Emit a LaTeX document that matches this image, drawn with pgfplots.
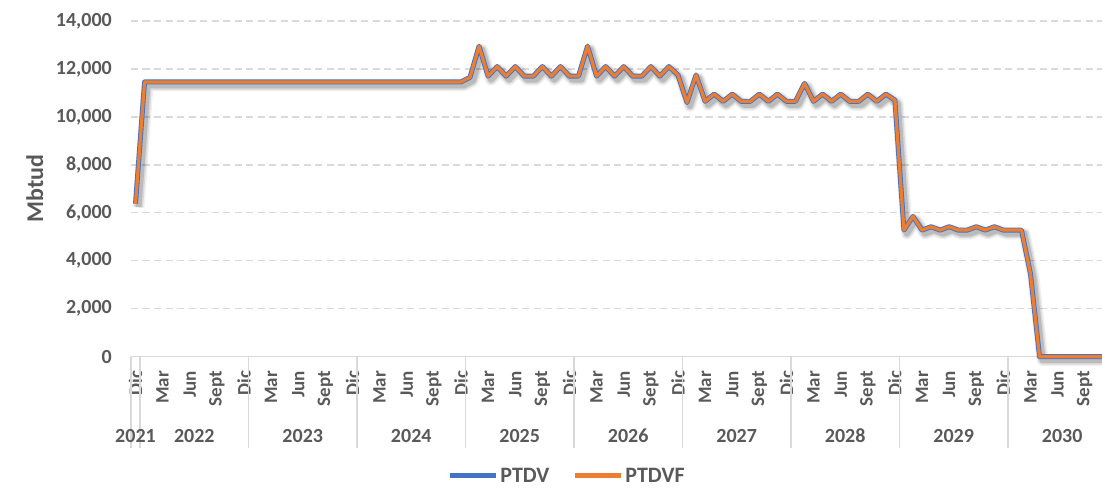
\documentclass[border=0pt]{standalone}
\usepackage{fontspec}
\setmainfont{Carlito}
\usepackage{pgfplots}
\usepackage{pgfplotstable}
\pgfplotsset{compat=1.18}
\definecolor{xlblue}{HTML}{4472C4}
\definecolor{xlorange}{HTML}{ED7D31}
\definecolor{xlgrid}{HTML}{D9D9D9}
\definecolor{xltext}{HTML}{595959}

\pgfplotstableread{
x ptdv ptdvf
0 6380 6380
1 11460 11460
2 11460 11460
3 11460 11460
4 11460 11460
5 11460 11460
6 11460 11460
7 11460 11460
8 11460 11460
9 11460 11460
10 11460 11460
11 11460 11460
12 11460 11460
13 11460 11460
14 11460 11460
15 11460 11460
16 11460 11460
17 11460 11460
18 11460 11460
19 11460 11460
20 11460 11460
21 11460 11460
22 11460 11460
23 11460 11460
24 11460 11460
25 11460 11460
26 11460 11460
27 11460 11460
28 11460 11460
29 11460 11460
30 11460 11460
31 11460 11460
32 11460 11460
33 11460 11460
34 11460 11460
35 11460 11460
36 11460 11460
37 11650 11650
38 12950 12950
39 11700 11700
40 12100 12100
41 11700 11700
42 12100 12100
43 11700 11700
44 11700 11700
45 12100 12100
46 11700 11700
47 12100 12100
48 11700 11700
49 11700 11700
50 12950 12950
51 11700 11700
52 12100 12100
53 11700 11700
54 12100 12100
55 11700 11700
56 11700 11700
57 12100 12100
58 11700 11700
59 12100 12100
60 11750 11750
61 10600 10600
62 11750 11750
63 10650 10650
64 10950 10950
65 10650 10650
66 10950 10950
67 10650 10650
68 10650 10650
69 10950 10950
70 10650 10650
71 10950 10950
72 10650 10650
73 10650 10650
74 11400 11400
75 10650 10650
76 10950 10950
77 10650 10650
78 10950 10950
79 10650 10650
80 10650 10650
81 10950 10950
82 10650 10650
83 10950 10950
84 10700 10700
85 5280 5280
86 5850 5850
87 5280 5280
88 5420 5420
89 5280 5280
90 5420 5420
91 5280 5280
92 5280 5280
93 5420 5420
94 5280 5280
95 5420 5420
96 5280 5280
97 5280 5280
98 5280 5280
99 3450 3450
100 0 0
101 0 0
102 0 0
103 0 0
104 0 0
105 0 0
106 0 0
107 0 0
108 0 0
}\gasdata

\begin{document}
\begin{tikzpicture}
\useasboundingbox (0,0) rectangle (1102pt,488pt);
\begin{axis}[
  at={(131pt,131.3pt)}, anchor=south west,
  scale only axis, width=971pt, height=335.7pt,
  xmin=-0.5, xmax=106.91, ymin=0, ymax=14000,
  clip=false,
  axis x line*=bottom, axis y line*=left,
  x axis line style={xlgrid, line width=1.5pt, -},
  y axis line style={draw=none},
  ytick={0,2000,...,14000},
  scaled y ticks=false,
  ymajorgrids,
  grid style={xlgrid, line width=1.3pt, dash pattern=on 7pt off 4.5pt},
  major tick length=0pt,
  tick style={draw=none},
  xtick={0,3,...,105},
  xticklabels={Dic,Mar,Jun,Sept,Dic,Mar,Jun,Sept,Dic,Mar,Jun,Sept,Dic,Mar,Jun,Sept,Dic,Mar,Jun,Sept,Dic,Mar,Jun,Sept,Dic,Mar,Jun,Sept,Dic,Mar,Jun,Sept,Dic,Mar,Jun,Sept},
  xticklabel style={rotate=90, anchor=east, inner sep=0pt, font=\fontsize{19}{19}\selectfont\bfseries, text=xltext},
  xticklabel shift=14pt,
  yticklabel style={font=\fontsize{20}{20}\selectfont\bfseries, text=xltext, inner sep=0pt},
  yticklabel shift=19pt,
  /pgf/number format/1000 sep={,},
  /pgf/number format/assume math mode=true,
  ylabel={Mbtud},
  every axis y label/.style={at={(axis description cs:-0.0992,0.5)}, rotate=90, anchor=center, font=\fontsize{24}{24}\selectfont\bfseries, text=xltext},
  legend style={at={(axis description cs:0.449,0)}, anchor=center, yshift=-119pt, draw=none, fill=none,
    font=\fontsize{22}{22}\selectfont\bfseries, text=xltext,
    /tikz/every even column/.append style={column sep=21pt}},
  legend columns=2,
  legend image code/.code={\draw[#1, line width=5pt] (0pt,0pt) -- (46pt,0pt);},
]
\addplot[forget plot, black, opacity=0.06, line width=12pt, line join=round, xshift=3pt, yshift=-3.5pt] table[x=x,y=ptdv]{\gasdata};
\addplot[forget plot, black, opacity=0.09, line width=9pt, line join=round, xshift=3pt, yshift=-3.5pt] table[x=x,y=ptdv]{\gasdata};
\addplot[forget plot, black, opacity=0.14, line width=6pt, line join=round, xshift=3pt, yshift=-3.5pt] table[x=x,y=ptdv]{\gasdata};
\addplot[xlblue, line width=5pt, line join=round] table[x=x,y=ptdv]{\gasdata};
\addplot[xlorange, line width=3.2pt, line join=round] table[x=x,y=ptdvf]{\gasdata};
\legend{PTDV,PTDVF}
\pgfplotsinvokeforeach{-0.5,0.5,12.5,24.5,36.5,48.5,60.5,72.5,84.5,96.5}{
  \draw[xlgrid, line width=1.5pt] (axis cs:#1,0) -- ++(0pt,-91.3pt);
}
\begin{scope}[every node/.style={font=\fontsize{20}{20}\selectfont\bfseries, text=xltext, yshift=-79pt}]
\node at (axis cs:0,0) {2021};
\node at (axis cs:6.5,0) {2022};
\node at (axis cs:18.5,0) {2023};
\node at (axis cs:30.5,0) {2024};
\node at (axis cs:42.5,0) {2025};
\node at (axis cs:54.5,0) {2026};
\node at (axis cs:66.5,0) {2027};
\node at (axis cs:78.5,0) {2028};
\node at (axis cs:90.5,0) {2029};
\node at (axis cs:102.5,0) {2030};
\end{scope}
\end{axis}
\end{tikzpicture}
\end{document}
